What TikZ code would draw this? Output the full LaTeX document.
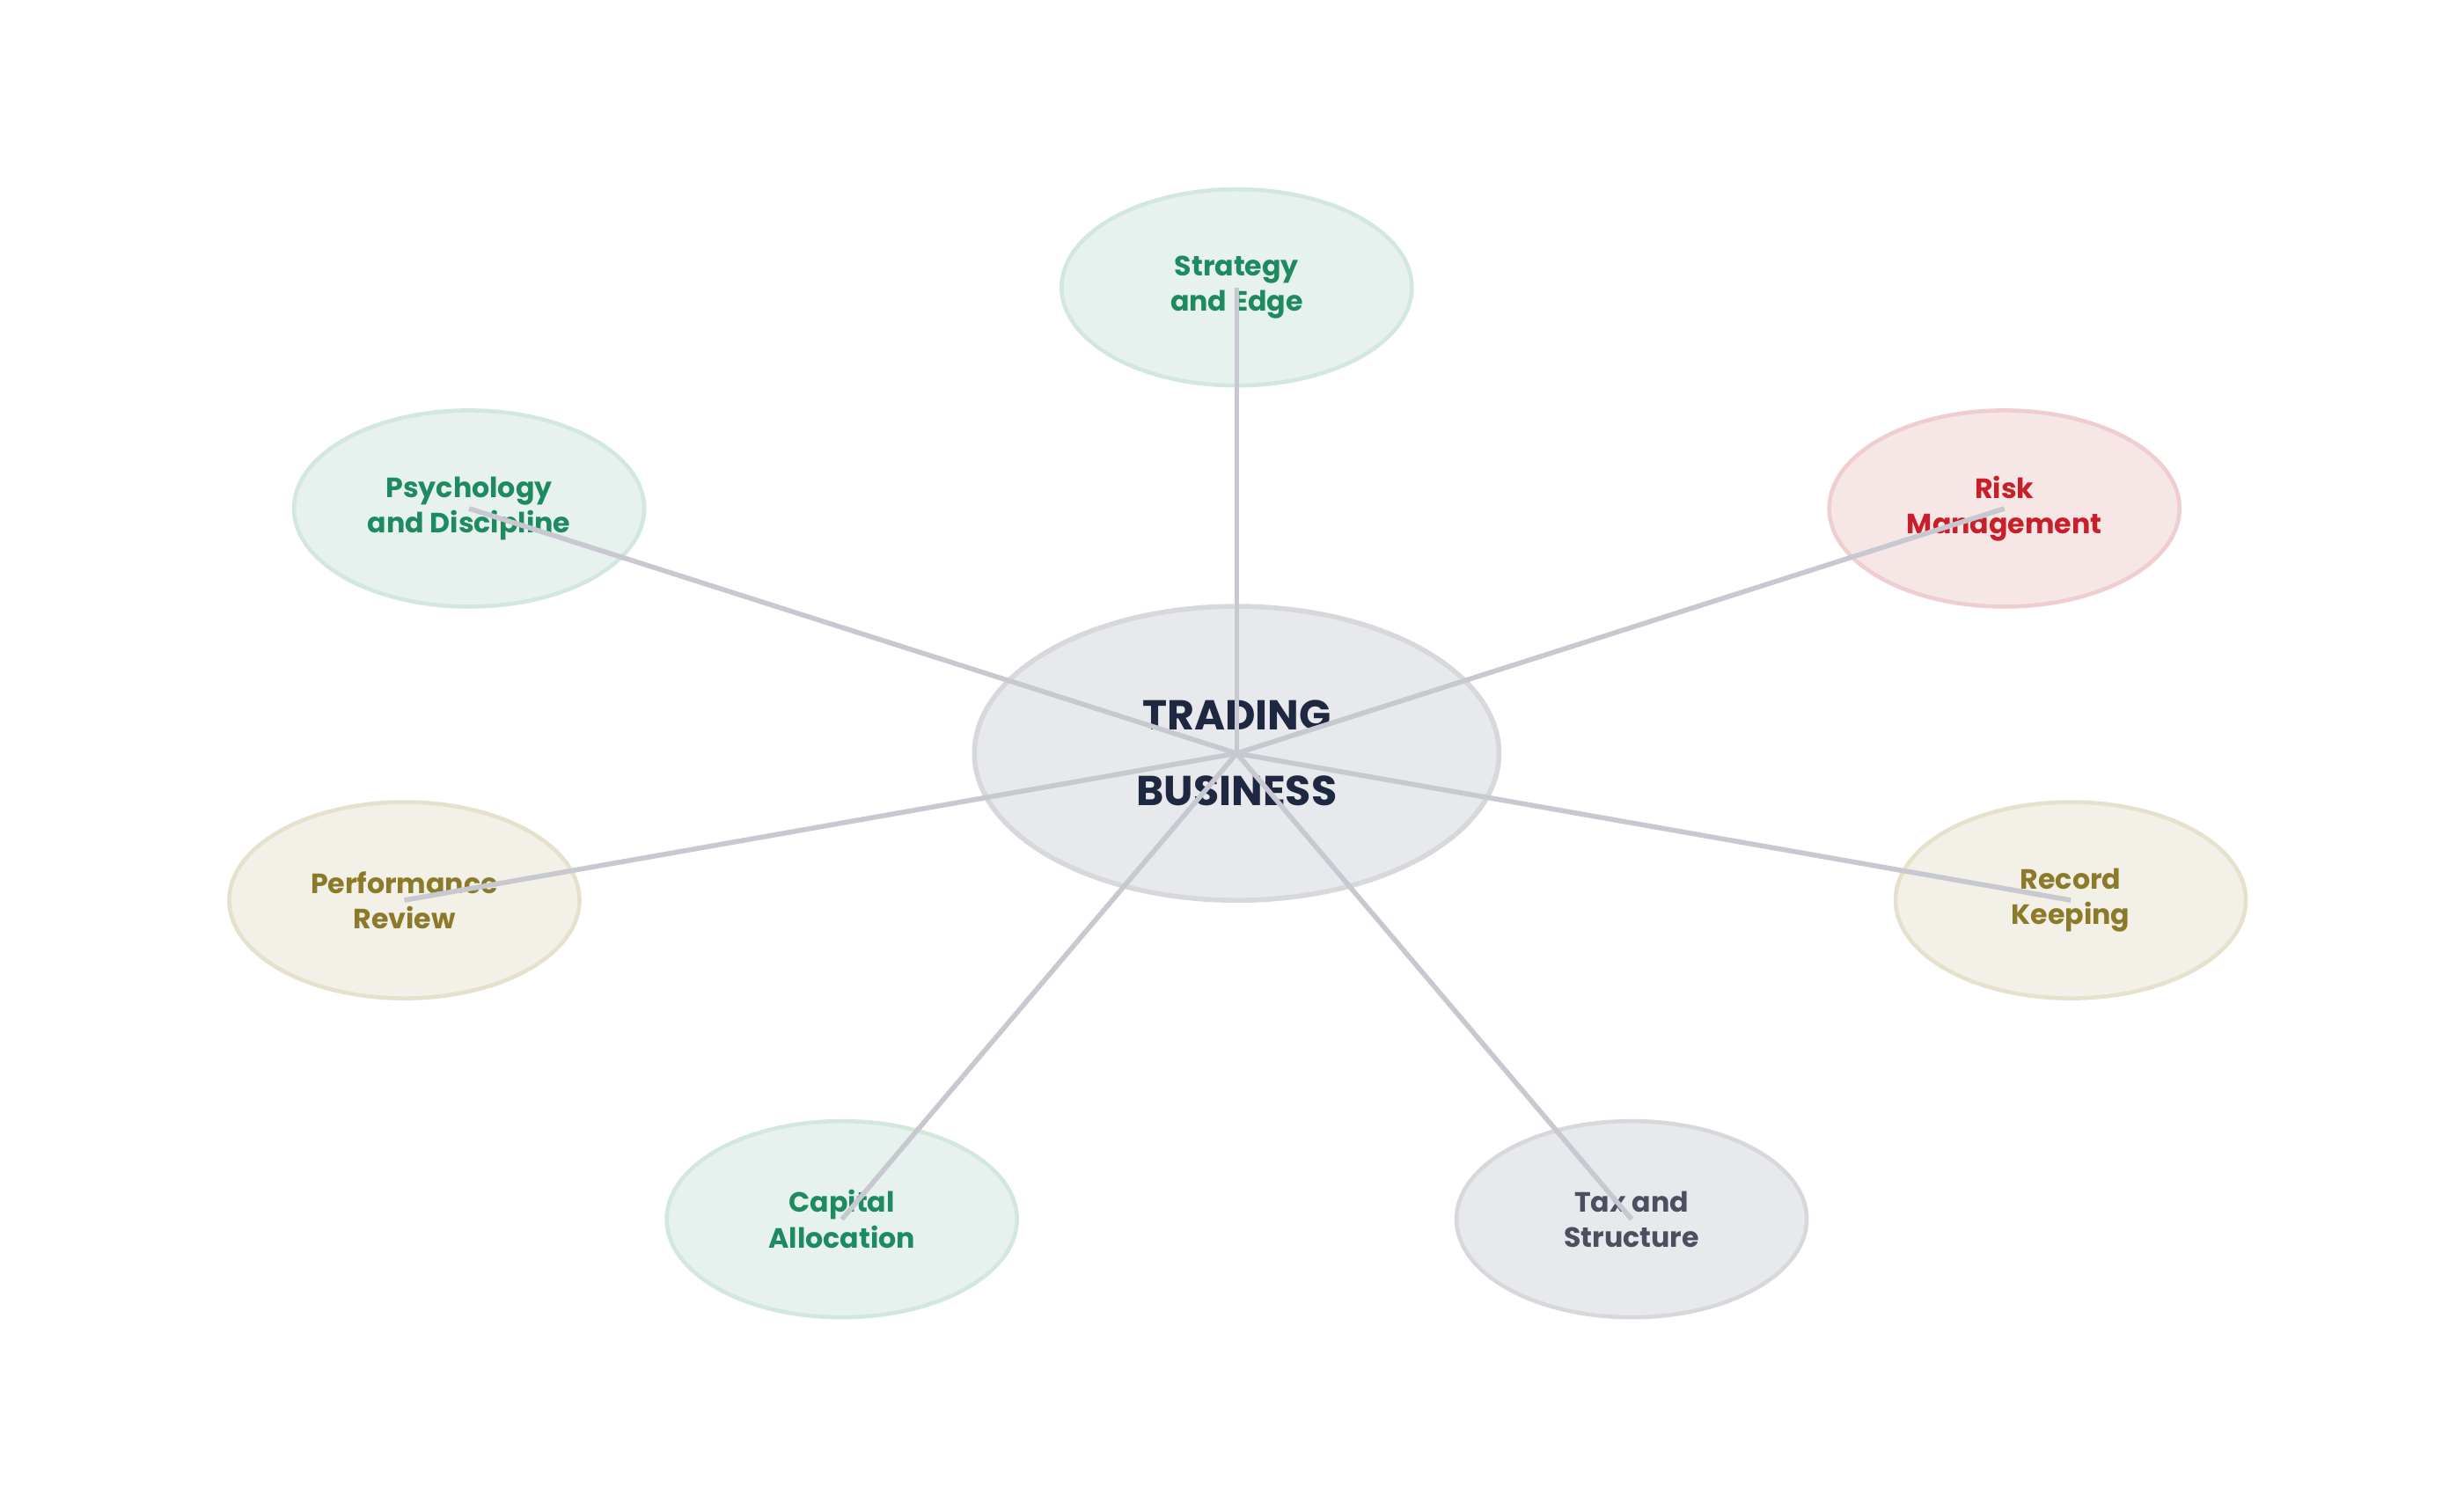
\documentclass[tikz,border=0pt]{standalone}
\usepackage{fontspec}
\setmainfont{Poppins}
\usetikzlibrary{shapes.geometric}
\definecolor{gF}{HTML}{E7F2EE}\definecolor{gS}{HTML}{D2E8DF}\definecolor{gT}{HTML}{1E8A62}
\definecolor{rF}{HTML}{F6E6E6}\definecolor{rS}{HTML}{F0CDD0}\definecolor{rT}{HTML}{C8202A}
\definecolor{oF}{HTML}{F3F0E8}\definecolor{oS}{HTML}{E6E1CC}\definecolor{oT}{HTML}{8A7A2A}
\definecolor{kF}{HTML}{E8E9EC}\definecolor{kS}{HTML}{D7D8DC}\definecolor{kT}{HTML}{4A5060}
\definecolor{cT}{HTML}{1E2840}\definecolor{ln}{HTML}{C8C9D0}
\begin{document}
\begin{tikzpicture}[x=0.01795cm,y=-0.01795cm,
 leaf/.style={ellipse,minimum width=3.98cm,minimum height=2.23cm,line width=1.3pt,align=center,font=\fontsize{9}{11.5}\selectfont\bfseries},
 g/.style={leaf,fill=gF,draw=gS,text=gT},
 r/.style={leaf,fill=rF,draw=rS,text=rT},
 o/.style={leaf,fill=oF,draw=oS,text=oT},
 k/.style={leaf,fill=kF,draw=kS,text=kT},
 con/.style={draw=ln,line width=1.6pt}]
\useasboundingbox (0,0) rectangle (1560,950.5);
\node[ellipse,minimum width=5.96cm,minimum height=3.34cm,fill=kF,draw=kS,line width=1.6pt,text=cT,align=center,font=\fontsize{13.5}{24.5}\selectfont\bfseries] (c) at (783,477) {TRADING\\BUSINESS};
\node[g] (s) at (783,182) {Strategy\\and Edge};
\node[g] (p) at (297,322) {Psychology\\and Discipline};
\node[r] (rm) at (1269,322) {Risk\\Management};
\node[o] (pr) at (256,570) {Performance\\Review};
\node[o] (rk) at (1311,570) {Record\\Keeping};
\node[g] (ca) at (533,772) {Capital\\Allocation};
\node[k] (t) at (1033,772) {Tax and\\Structure};
\foreach \n in {s,p,rm,pr,rk,ca,t} \draw[con] (c.center) -- (\n.center);
\end{tikzpicture}
\end{document}
